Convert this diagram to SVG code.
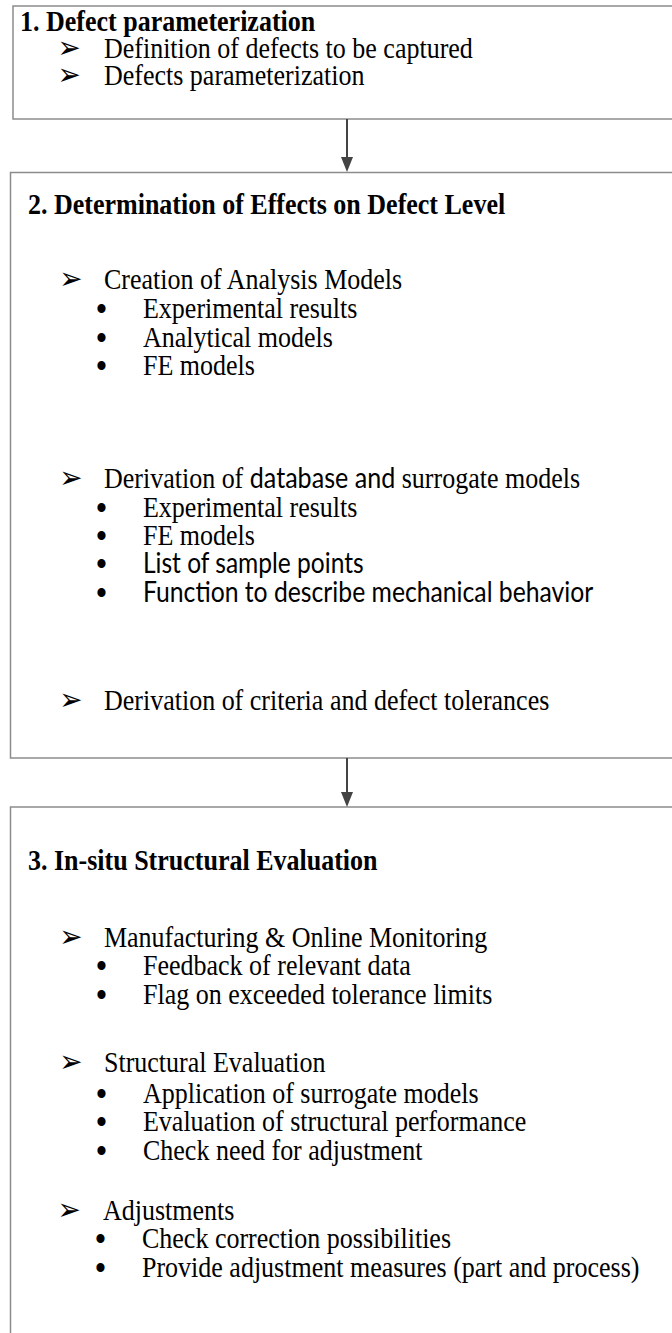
<svg xmlns="http://www.w3.org/2000/svg" width="672" height="1333" viewBox="0 0 672 1333">
<style>
.box{fill:#fff;stroke:#8c8c8c;stroke-width:1.5}
.h{font-family:"Liberation Serif","Times New Roman",serif;font-weight:bold;font-size:29px;fill:#000}
.t{font-family:"Liberation Serif","Times New Roman",serif;font-size:29px;fill:#000}
.s{font-family:Lato,"Liberation Sans",sans-serif;font-size:28px;fill:#000}
.ar{font-family:"DejaVu Sans",sans-serif;font-size:31px;fill:#000}
.bu{font-family:"Liberation Serif",serif;font-size:38px;fill:#000}
.conn{stroke:#444;stroke-width:2;fill:none}
</style>
<rect width="672" height="1333" fill="#fff"/>
<g id="node1">
<rect class="box" x="13" y="6" width="700" height="113"/>
<g transform="scale(0.897 1)">
<text class="h" x="22.3" y="31">1. Defect parameterization</text>
<text class="ar" x="64" y="58">➢</text>
<text class="t" x="115.9" y="58">Definition of defects to be captured</text>
<text class="ar" x="64" y="85">➢</text>
<text class="t" x="115.9" y="85">Defects parameterization</text>
</g>
</g>
<g id="node2">
<rect class="box" x="10.5" y="172.5" width="700" height="585.5"/>
<g transform="scale(0.897 1)">
<text class="h" x="31.2" y="214">2. Determination of Effects on Defect Level</text>
<text class="ar" x="66" y="289">➢</text>
<text class="t" x="115.9" y="289">Creation of Analysis Models</text>
<text class="bu" x="106.5" y="322">•</text>
<text class="t" x="159.4" y="318">Experimental results</text>
<text class="bu" x="106.5" y="351">•</text>
<text class="t" x="159.4" y="347">Analytical models</text>
<text class="bu" x="106.5" y="379">•</text>
<text class="t" x="159.4" y="375">FE models</text>
<text class="ar" x="66" y="488">➢</text>
<text class="t" x="115.9" y="488">Derivation of <tspan class="s">database and</tspan> surrogate models</text>
<text class="bu" x="106.5" y="521">•</text>
<text class="t" x="159.4" y="517">Experimental results</text>
<text class="bu" x="106.5" y="549">•</text>
<text class="t" x="159.4" y="545">FE models</text>
<text class="bu" x="106.5" y="577">•</text>
<text class="s" x="159.4" y="573" textLength="246" lengthAdjust="spacingAndGlyphs">List of sample points</text>
<text class="bu" x="106.5" y="606">•</text>
<text class="s" x="159.4" y="602" textLength="502" lengthAdjust="spacingAndGlyphs">Function to describe mechanical behavior</text>
<text class="ar" x="66" y="710">➢</text>
<text class="t" x="115.9" y="710">Derivation of criteria and defect tolerances</text>
</g>
</g>
<g id="node3">
<rect class="box" x="10.5" y="807" width="700" height="560"/>
<g transform="scale(0.897 1)">
<text class="h" x="31.2" y="870">3. In-situ Structural Evaluation</text>
<text class="ar" x="66" y="947">➢</text>
<text class="t" x="115.9" y="947">Manufacturing &amp; Online Monitoring</text>
<text class="bu" x="106.5" y="979">•</text>
<text class="t" x="159.4" y="975">Feedback of relevant data</text>
<text class="bu" x="106.5" y="1008">•</text>
<text class="t" x="159.4" y="1004">Flag on exceeded tolerance limits</text>
<text class="ar" x="66" y="1072">➢</text>
<text class="t" x="115.9" y="1072">Structural Evaluation</text>
<text class="bu" x="106.5" y="1107">•</text>
<text class="t" x="159.4" y="1103">Application of surrogate models</text>
<text class="bu" x="106.5" y="1135">•</text>
<text class="t" x="159.4" y="1131">Evaluation of structural performance</text>
<text class="bu" x="106.5" y="1164">•</text>
<text class="t" x="159.4" y="1160">Check need for adjustment</text>
<text class="ar" x="64" y="1220">➢</text>
<text class="t" x="114.8" y="1220">Adjustments</text>
<text class="bu" x="105.4" y="1252">•</text>
<text class="t" x="158.3" y="1248">Check correction possibilities</text>
<text class="bu" x="105.4" y="1281">•</text>
<text class="t" x="158.3" y="1277">Provide adjustment measures (part and process)</text>
</g>
</g>
<g id="connectors">
<line class="conn" x1="347" y1="119" x2="347" y2="158"/>
<path d="M341,157 L353,157 L347,172 Z" fill="#444"/>
<line class="conn" x1="347" y1="758" x2="347" y2="793"/>
<path d="M341,792 L353,792 L347,807 Z" fill="#444"/>
</g>
</svg>
